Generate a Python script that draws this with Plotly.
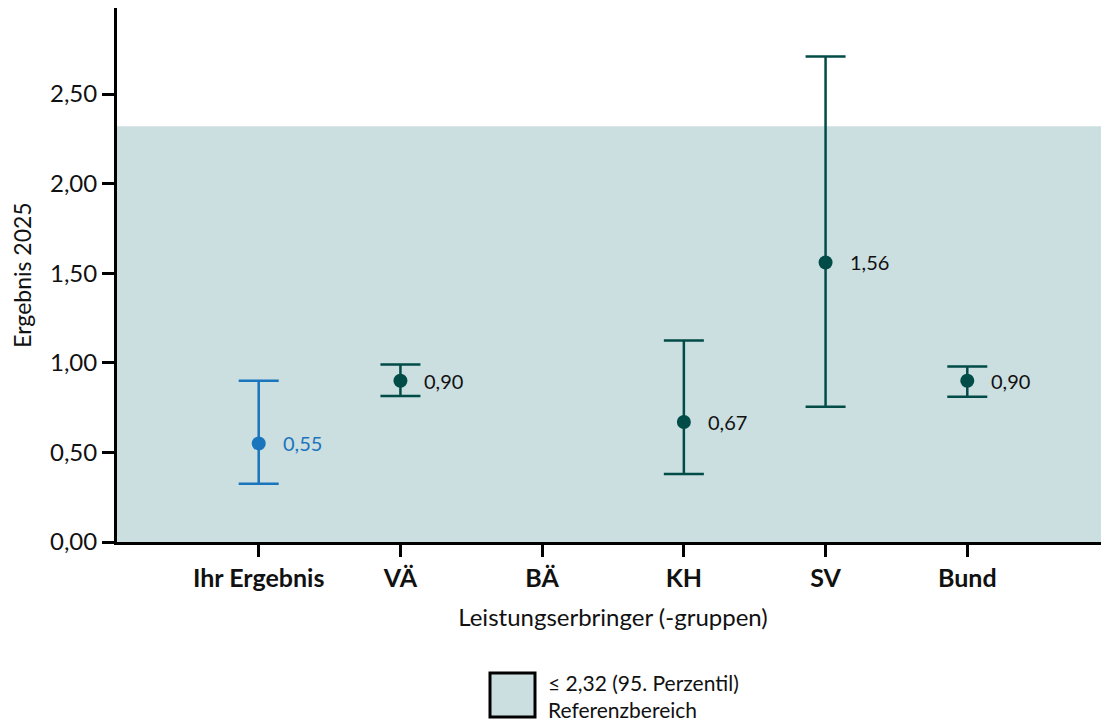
import plotly.graph_objects as go

categories = ["Ihr Ergebnis", "VÄ", "BÄ", "KH", "SV", "Bund"]
values = [0.55, 0.90, None, 0.67, 1.56, 0.90]
ci_upper = [0.90, 0.99, None, 1.125, 2.71, 0.98]
ci_lower = [0.325, 0.815, None, 0.38, 0.755, 0.81]
value_labels = ["0,55", "0,90", "", "0,67", "1,56", "0,90"]
ref_upper = 2.32
y_ticks = [0, 0.5, 1.0, 1.5, 2.0, 2.5]
y_ticktext = ["0,00", "0,50", "1,00", "1,50", "2,00", "2,50"]

FONT = "Lato"
BLUE = "#1a75bc"
TEAL = "#024c47"
SHADE = "#cbdee0"

# page has an 8px body margin; plot area in figure px
OFF = 8
PL, PR, PT, PB = 117 - OFF, 1109 - OFF, 8 - OFF, 542 - OFF
PW, PH = PR - PL, PB - PT


def px(sx):
    return (sx - OFF - PL) / PW


def py(sy):
    return (PB - (sy - OFF)) / PH


fig = go.Figure()

# reference range
fig.add_shape(type="rect", xref="paper", yref="y", x0=0, x1=1, y0=0, y1=ref_upper,
              fillcolor=SHADE, line_width=0, layer="below")

for i, cat in enumerate(categories):
    if values[i] is None:
        continue
    col = BLUE if i == 0 else TEAL
    fig.add_trace(go.Scatter(
        x=[cat], y=[values[i]], mode="markers",
        marker=dict(size=14, color=col),
        error_y=dict(type="data", symmetric=False,
                     array=[ci_upper[i] - values[i]],
                     arrayminus=[values[i] - ci_lower[i]],
                     color=col, thickness=2.5, width=20),
        showlegend=False, hoverinfo="skip"))
    fig.add_annotation(x=cat, y=values[i], text=value_labels[i], showarrow=False,
                       xanchor="left", yanchor="middle", xshift=22,
                       font=dict(family=FONT, size=20, color=BLUE if i == 0 else "#111111"))

fig.update_xaxes(type="category", categoryorder="array", categoryarray=categories,
                 range=[-1, 6], showline=True, linecolor="black", linewidth=3,
                 ticks="outside", ticklen=12, tickwidth=3, tickcolor="black",
                 showgrid=False, zeroline=False,
                 tickfont=dict(family=FONT, size=25, color="#111111", weight="bold"),
                 title=dict(text="Leistungserbringer (-gruppen)",
                            font=dict(family=FONT, size=24, color="#111111"), standoff=19))
fig.update_yaxes(range=[0, 2.98], tickvals=y_ticks, ticktext=y_ticktext,
                 showline=True, linecolor="black", linewidth=3,
                 ticks="outside", ticklen=12, tickwidth=3, tickcolor="black",
                 showgrid=False, zeroline=False,
                 tickfont=dict(family=FONT, size=24, color="#111111"),
                 title=dict(text="Ergebnis 2025",
                            font=dict(family=FONT, size=23, color="#111111"), standoff=14))

# legend drawn manually
fig.add_shape(type="rect", xref="paper", yref="paper",
              x0=px(490), x1=px(535), y0=py(673), y1=py(717),
              fillcolor=SHADE, line=dict(color="black", width=3))
fig.add_annotation(xref="paper", yref="paper", x=px(546), y=py(696),
                   text="≤ 2,32 (95. Perzentil)<br>Referenzbereich", showarrow=False,
                   xanchor="left", yanchor="middle", align="left",
                   font=dict(family=FONT, size=21, color="#111111"))

fig.update_layout(width=1109, height=724,
                  margin=dict(l=PL, r=1109 - PR, t=PT, b=724 - PB),
                  paper_bgcolor="white", plot_bgcolor="white",
                  font=dict(family=FONT))

fig.write_html("out.html")
